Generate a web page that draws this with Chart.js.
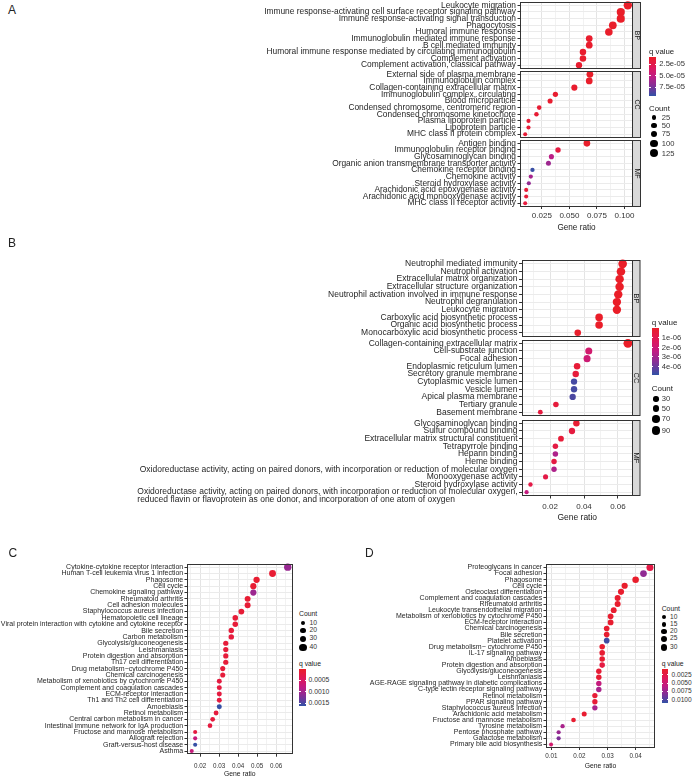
<!DOCTYPE html>
<html>
<head>
<meta charset="utf-8">
<title>Enrichment dot plots</title>
<script src="https://cdn.jsdelivr.net/npm/chart.js@4.4.1/dist/chart.umd.min.js"></script>
<style>
  html, body { margin: 0; padding: 0; background: #fff; }
  body { position: relative; width: 693px; height: 776px; overflow: hidden; }
  canvas { position: absolute; }
</style>
</head>
<body>
<script>
// ---------- A : GO terms (BP / CC / MF) ----------
const aBPTerms = ['Leukocyte migration', 'Immune response-activating cell surface receptor signaling pathway',
  'Immune response-activating signal transduction', 'Phagocytosis', 'Humoral immune response',
  'Immunoglobulin mediated immune response', 'B cell mediated immunity',
  'Humoral immune response mediated by circulating immunoglobulin', 'Complement activation',
  'Complement activation, classical pathway'];
const aBPRatio = [0.1030, 0.0966, 0.0966, 0.0894, 0.0858, 0.0680, 0.0680, 0.0623, 0.0623, 0.0587];
const aBPCount = [126, 118, 118, 109, 105, 83, 83, 76, 76, 72];
const aBPQ = [9e-6, 9e-6, 9e-6, 1.0e-5, 1.0e-5, 1.1e-5, 1.1e-5, 1.1e-5, 1.1e-5, 1.2e-5];

const aCCTerms = ['External side of plasma membrane', 'Immunoglobulin complex', 'Collagen-containing extracellular matrix',
  'Immunoglobulin complex, circulating', 'Blood microparticle', 'Condensed chromosome, centromeric region',
  'Condensed chromosome kinetochore', 'Plasma lipoprotein particle', 'Lipoprotein particle',
  'MHC class II protein complex'];
const aCCRatio = [0.0686, 0.0680, 0.0545, 0.0373, 0.0325, 0.0226, 0.0201, 0.0129, 0.0129, 0.0099];
const aCCCount = [84, 83, 66, 45, 40, 28, 25, 16, 16, 12];
const aCCQ = [1.0e-5, 1.0e-5, 1.1e-5, 1.2e-5, 1.2e-5, 1.4e-5, 1.4e-5, 1.5e-5, 1.5e-5, 1.5e-5];

const aMFTerms = ['Antigen binding', 'Immunoglobulin receptor binding', 'Glycosaminoglycan binding',
  'Organic anion transmembrane transporter activity', 'Chemokine receptor binding', 'Chemokine activity',
  'Steroid hydroxylase activity', 'Arachidonic acid epoxygenase activity',
  'Arachidonic acid monooxygenase activity', 'MHC class II receptor activity'];
const aMFRatio = [0.0659, 0.0397, 0.0337, 0.0310, 0.0165, 0.0150, 0.0132, 0.0108, 0.0108, 0.0099];
const aMFCount = [80, 48, 41, 38, 20, 18, 16, 13, 13, 12];
const aMFQ = [1.0e-5, 2.0e-5, 5.3e-5, 6.3e-5, 9.2e-5, 6.0e-5, 6.6e-5, 1.5e-5, 1.5e-5, 1.8e-5];

const aMajor = [0.025, 0.05, 0.075, 0.1];
const aMajorLabels = ['0.025', '0.050', '0.075', '0.100'];
const aMinor = [0.0125, 0.0375, 0.0625, 0.0875];
const aQBreaks = [2.5e-5, 5e-5, 7.5e-5];
const aQLabels = ['2.5e-05', '5.0e-05', '7.5e-05'];
const aCountBreaks = [25, 50, 75, 100, 125];

// ---------- B : GO terms (BP / CC / MF) ----------
const bBPTerms = ['Neutrophil mediated immunity', 'Neutrophil activation', 'Extracellular matrix organization',
  'Extracellular structure organization', 'Neutrophil activation involved in immune response',
  'Neutrophil degranulation', 'Leukocyte migration', 'Carboxylic acid biosynthetic process',
  'Organic acid biosynthetic process', 'Monocarboxylic acid biosynthetic process'];
const bBPRatio = [0.0628, 0.0618, 0.0610, 0.0610, 0.0602, 0.0594, 0.0594, 0.0489, 0.0489, 0.0363];
const bBPCount = [91, 90, 88, 88, 87, 86, 86, 71, 71, 53];
const bBPQ = [1e-9, 1e-9, 1e-9, 1e-9, 1e-9, 1e-9, 1e-9, 5e-8, 5e-8, 1e-7];

const bCCTerms = ['Collagen-containing extracellular matrix', 'Cell-substrate junction', 'Focal adhesion',
  'Endoplasmic reticulum lumen', 'Secretory granule membrane', 'Cytoplasmic vesicle lumen', 'Vesicle lumen',
  'Apical plasma membrane', 'Tertiary granule', 'Basement membrane'];
const bCCRatio = [0.0659, 0.0428, 0.0418, 0.0359, 0.0351, 0.0341, 0.0341, 0.0333, 0.0234, 0.0142];
const bCCCount = [96, 62, 61, 52, 51, 49, 49, 48, 34, 21];
const bCCQ = [1e-9, 1.8e-6, 2.0e-6, 4e-7, 5e-7, 4.6e-6, 4.6e-6, 4.5e-6, 5e-7, 6e-7];

const bMFTerms = ['Glycosaminoglycan binding', 'Sulfur compound binding', 'Extracellular matrix structural constituent',
  'Tetrapyrrole binding', 'Heparin binding', 'Heme binding',
  'Oxidoreductase activity, acting on paired donors, with incorporation or reduction of molecular oxygen',
  'Monooxygenase activity', 'Steroid hydroxylase activity',
  ['Oxidoreductase activity, acting on paired donors, with incorporation or reduction of molecular oxygen,',
   'reduced flavin or flavoprotein as one donor, and incorporation of one atom of oxygen']];
const bMFRatio = [0.0355, 0.0329, 0.0264, 0.0231, 0.0231, 0.0223, 0.0223, 0.0173, 0.0084, 0.0061];
const bMFCount = [51, 48, 38, 33, 33, 32, 32, 25, 12, 9];
const bMFQ = [3e-7, 6e-7, 4e-7, 7e-7, 2.8e-6, 7e-7, 2.8e-6, 8e-7, 8e-7, 2.3e-6];

const bMajor = [0.02, 0.04, 0.06];
const bMajorLabels = ['0.02', '0.04', '0.06'];
const bMinor = [0.01, 0.03, 0.05];
const bQBreaks = [1e-6, 2e-6, 3e-6, 4e-6];
const bQLabels = ['1e-06', '2e-06', '3e-06', '4e-06'];
const bCountBreaks = [30, 50, 70, 90];

// ---------- C : KEGG pathways ----------
const cTerms = ['Cytokine-cytokine receptor interaction', 'Human T-cell leukemia virus 1 infection', 'Phagosome',
  'Cell cycle', 'Chemokine signaling pathway', 'Rheumatoid arthritis', 'Cell adhesion molecules',
  'Staphylococcus aureus infection', 'Hematopoietic cell lineage',
  'Viral protein interaction with cytokine and cytokine receptor', 'Bile secretion', 'Carbon metabolism',
  'Glycolysis/gluconeogenesis', 'Leishmaniasis', 'Protein digestion and absorption', 'Th17 cell differentiation',
  'Drug metabolism\u2212cytochrome P450', 'Chemical carcinogenesis', 'Metabolism of xenobiotics by cytochrome P450',
  'Complement and coagulation cascades', 'ECM-receptor interaction', 'Th1 and Th2 cell differentiation',
  'Amoebiasis', 'Retinol metabolism', 'Central carbon metabolism in cancer',
  'Intestinal immune network for IgA production', 'Fructose and mannose metabolism', 'Allograft rejection',
  'Graft-versus-host disease', 'Asthma'];
const cRatio = [0.0661, 0.0581, 0.0497, 0.0480, 0.0480, 0.0450, 0.0450, 0.0417, 0.0385, 0.0385, 0.0364, 0.0364,
  0.0335, 0.0335, 0.0335, 0.0335, 0.0319, 0.0319, 0.0301, 0.0301, 0.0301, 0.0301, 0.0301, 0.0284, 0.0266,
  0.0252, 0.0174, 0.0174, 0.0174, 0.0156];
const cCount = [40, 35, 30, 29, 29, 27, 27, 25, 23, 23, 22, 22, 20, 20, 20, 20, 19, 19, 18, 18, 18, 18, 18, 17,
  16, 15, 10, 10, 10, 9];
const cQ = [0.00105, 0.0001, 0.00008, 0.0001, 0.00102, 0.0001, 0.00012, 0.00012, 0.00014, 0.00014, 0.00015,
  0.00018, 0.00015, 0.00015, 0.00015, 0.00015, 0.00016, 0.00016, 0.0002, 0.0002, 0.0002, 0.0002, 0.00158,
  0.00018, 0.00018, 0.0002, 0.0002, 0.00072, 0.00158, 0.00072];

const cMajor = [0.02, 0.03, 0.04, 0.05, 0.06];
const cMajorLabels = ['0.02', '0.03', '0.04', '0.05', '0.06'];
const cMinor = [0.015, 0.025, 0.035, 0.045, 0.055, 0.065];
const cQBreaks = [0.0005, 0.001, 0.0015];
const cQLabels = ['0.0005', '0.0010', '0.0015'];
const cCountBreaks = [10, 20, 30, 40];

// ---------- D : KEGG pathways ----------
const dTerms = ['Proteoglycans in cancer', 'Focal adhesion', 'Phagosome', 'Cell cycle', 'Osteoclast differentiation',
  'Complement and coagulation cascades', 'Rheumatoid arthritis', 'Leukocyte transendothelial migration',
  'Metabolism of xenobiotics by cytochrome P450', 'ECM-receptor interaction', 'Chemical carcinogenesis',
  'Bile secretion', 'Platelet activation', 'Drug metabolism\u2212 cytochrome P450', 'IL-17 signaling pathway',
  'Amoebiasis', 'Protein digestion and absorption', 'Glycolysis/gluconeogenesis', 'Leishmaniasis',
  'AGE-RAGE signaling pathway in diabetic complications', 'C-type lectin receptor signaling pathway',
  'Retinol metabolism', 'PPAR signaling pathway', 'Staphylococcus aureus infection', 'Arachidonic acid metabolism',
  'Fructose and mannose metabolism', 'Tyrosine metabolism', 'Pentose phosphate pathway', 'Galactose metabolism',
  'Primary bile acid biosynthesis'];
const dRatio = [0.0451, 0.0428, 0.0400, 0.0361, 0.0348, 0.0336, 0.0336, 0.0322, 0.0311, 0.0311, 0.0297, 0.0297,
  0.0297, 0.0281, 0.0281, 0.0281, 0.0281, 0.0269, 0.0269, 0.0269, 0.0269, 0.0255, 0.0255, 0.0255, 0.0217,
  0.0179, 0.0140, 0.0126, 0.0126, 0.0099];
const dCount = [34, 32, 30, 27, 26, 25, 25, 24, 23, 23, 22, 22, 22, 21, 21, 21, 21, 20, 20, 20, 20, 19, 19, 19,
  16, 13, 10, 9, 9, 7];
const dQ = [0.0024, 0.0078, 0.0010, 0.0010, 0.0011, 0.0011, 0.0011, 0.0012, 0.0012, 0.0012, 0.0013, 0.0013,
  0.0105, 0.0013, 0.0014, 0.0014, 0.0022, 0.0015, 0.0015, 0.0055, 0.0068, 0.0016, 0.0016, 0.0068, 0.0013,
  0.0013, 0.0068, 0.0075, 0.0085, 0.0045];

const dMajor = [0.01, 0.02, 0.03, 0.04];
const dMajorLabels = ['0.01', '0.02', '0.03', '0.04'];
const dMinor = [0.015, 0.025, 0.035, 0.045];
const dQBreaks = [0.0025, 0.005, 0.0075, 0.01];
const dQLabels = ['0.0025', '0.0050', '0.0075', '0.0100'];
const dCountBreaks = [10, 15, 20, 25, 30];

// ---------- helpers ----------
const FONT = '"Liberation Sans", Arial, Helvetica, sans-serif';
Chart.defaults.font.family = FONT;

// red -> magenta -> purple -> blue, low q on top
const qStops = [[0, [234, 30, 40]], [0.25, [224, 24, 88]], [0.5, [192, 28, 132]], [0.75, [128, 48, 152]], [1, [50, 82, 166]]];
function qColor(q, lo, hi) {
  let t = (q - lo) / (hi - lo);
  t = Math.max(0, Math.min(1, t));
  for (let i = 1; i < qStops.length; i++) {
    if (t <= qStops[i][0]) {
      const [t0, c0] = qStops[i - 1], [t1, c1] = qStops[i];
      const f = (t - t0) / (t1 - t0);
      return 'rgb(' + c0.map((v, k) => Math.round(v + (c1[k] - v) * f)).join(',') + ')';
    }
  }
  return 'rgb(50,82,166)';
}
function dotRadius(c, s) {
  return s.rMin + (s.rMax - s.rMin) * (c - s.cMin) / (s.cMax - s.cMin);
}
function addText(x, cy, str, fs, color) {
  const d = document.createElement('div');
  d.textContent = str;
  d.style.cssText = 'position:absolute;white-space:nowrap;left:' + x + 'px;top:' + (cy - fs / 2) + 'px;' +
    'font-size:' + fs + 'px;line-height:' + fs + 'px;font-family:' + FONT + ';color:' + color + ';';
  document.body.appendChild(d);
}

// panel border, right-hand strip and the one two-line label
const facetBox = {
  id: 'facetBox',
  afterDraw(chart, args, o) {
    const { ctx, chartArea: a } = chart;
    ctx.save();
    ctx.lineWidth = 1;
    ctx.strokeStyle = '#333';
    const l = Math.round(a.left) + 0.5, t = Math.round(a.top) + 0.5;
    const r = Math.round(a.right) - 0.5, b = Math.round(a.bottom) - 0.5;
    ctx.strokeRect(l, t, r - l, b - t);
    if (o.strip) {
      ctx.fillStyle = '#D9D9D9';
      ctx.fillRect(r, t, o.stripW, b - t);
      ctx.strokeRect(r, t, o.stripW, b - t);
      ctx.save();
      ctx.fillStyle = '#1A1A1A';
      ctx.font = o.stripFs + 'px ' + FONT;
      ctx.textAlign = 'center';
      ctx.textBaseline = 'middle';
      ctx.translate(r + o.stripW / 2, (t + b) / 2);
      ctx.rotate(Math.PI / 2);
      ctx.fillText(o.strip, 0, 0);
      ctx.restore();
    }
    const ys = chart.scales.y;
    ys.getLabels().forEach((lab, i) => {
      if (!Array.isArray(lab)) return;
      ctx.font = o.yFs + 'px ' + FONT;
      ctx.fillStyle = '#262626';
      ctx.textAlign = 'left';
      ctx.textBaseline = 'middle';
      const x0 = a.left - 2.5 - o.yPad - ctx.measureText(lab[0]).width;
      const yc = ys.getPixelForValue(i);
      lab.forEach((line, k) => ctx.fillText(line, x0, yc - 0.5 + k * o.lineGap));
    });
    ctx.restore();
  }
};

function facet(p, f) {
  const plotW = p.right - p.left, plotH = f.bottom - f.top;
  const axisH = f.axis ? p.axisH : 0;
  const cl = Math.floor(p.left - p.labW), ct = Math.floor(f.top - 8);
  const yW = p.left - cl, padT = f.top - ct;
  const W = Math.ceil(yW + plotW + (p.stripW || 0) + 6);
  const H = Math.ceil(padT + plotH + axisH + 8);
  const padR = W - yW - plotW, padB = H - padT - plotH - axisH;
  const cv = document.createElement('canvas');
  cv.width = W; cv.height = H;
  cv.style.left = cl + 'px'; cv.style.top = ct + 'px';
  cv.style.width = W + 'px'; cv.style.height = H + 'px';
  document.body.appendChild(cv);

  const ticks = p.major.concat(p.minor).sort((u, v) => u - v);
  const isMajor = c => c.tick && p.major.indexOf(c.tick.value) >= 0;
  const radii = f.count.map(c => dotRadius(c, p.size));

  new Chart(cv, {
    type: 'scatter',
    data: {
      datasets: [{
        data: f.terms.map((t, i) => ({ x: f.ratio[i], y: i })),
        backgroundColor: f.q.map(v => qColor(v, p.qMin, p.qMax)),
        pointRadius: radii,
        pointHoverRadius: radii,
        borderWidth: 0,
        clip: false
      }]
    },
    options: {
      responsive: false,
      animation: false,
      devicePixelRatio: 1,
      events: [],
      layout: { padding: { left: 0, top: padT, right: padR, bottom: padB } },
      plugins: {
        legend: { display: false },
        tooltip: { enabled: false },
        facetBox: { strip: f.strip, stripW: p.stripW, stripFs: p.stripFs, yFs: p.yFs, yPad: p.yPad, lineGap: 7.5 }
      },
      scales: {
        x: {
          type: 'linear',
          bounds: 'data',
          min: p.xMin,
          max: p.xMax,
          afterBuildTicks: s => { s.ticks = ticks.map(v => ({ value: v })); },
          afterFit: s => { s.height = axisH; },
          ticks: {
            display: !!f.axis, autoSkip: false, maxRotation: 0, minRotation: 0,
            padding: p.tickPad, color: '#333', font: { size: p.xFs, family: FONT },
            callback: v => { const k = p.major.indexOf(v); return k < 0 ? '' : p.majorLabels[k]; }
          },
          grid: {
            color: c => isMajor(c) ? '#E4E4E4' : '#F2F2F2',
            lineWidth: 1,
            drawTicks: !!f.axis,
            tickLength: 2.5,
            tickColor: c => isMajor(c) ? '#333' : 'rgba(0,0,0,0)'
          },
          border: { display: false },
          title: { display: !!f.axis, text: 'Gene ratio', color: '#1A1A1A', font: { size: p.titleFs, family: FONT }, padding: 0 }
        },
        y: {
          type: 'category',
          labels: f.terms,
          offset: true,
          afterFit: s => { s.width = yW; },
          ticks: {
            autoSkip: false, padding: p.yPad, color: '#262626', font: { size: p.yFs, family: FONT },
            callback: function (v) { const t = this.getLabelForValue(v); return Array.isArray(t) ? '' : t; }
          },
          grid: { color: '#EBEBEB', lineWidth: 1, offset: false, drawTicks: true, tickLength: 2.5, tickColor: '#333' },
          border: { display: false }
        }
      }
    },
    plugins: [facetBox]
  });
}

function legend(p, L, qBreaks, qLabels, countBreaks) {
  addText(L.x, L.qTitleY, 'q value', L.titleFs, '#1A1A1A');
  const stops = [];
  for (let k = 0; k <= 10; k++) {
    stops.push(qColor(p.qMin + (p.qMax - p.qMin) * k / 10, p.qMin, p.qMax) + ' ' + (k * 10) + '%');
  }
  const bar = document.createElement('div');
  bar.style.cssText = 'position:absolute;left:' + L.x + 'px;top:' + L.barTop + 'px;width:' + L.barW + 'px;height:' +
    L.barH + 'px;background:linear-gradient(to bottom,' + stops.join(',') + ');';
  document.body.appendChild(bar);
  qBreaks.forEach((v, i) => {
    const y = L.barTop + (v - p.qMin) / (p.qMax - p.qMin) * L.barH;
    [0, L.barW - 1.5].forEach(dx => {
      const tk = document.createElement('div');
      tk.style.cssText = 'position:absolute;left:' + (L.x + dx) + 'px;top:' + (y - 0.5) + 'px;width:1.5px;height:1px;background:#fff;';
      document.body.appendChild(tk);
    });
    addText(L.labelX, y, qLabels[i], L.fs, '#333');
  });
  addText(L.x, L.countTitleY, 'Count', L.titleFs, '#1A1A1A');
  countBreaks.forEach((c, i) => {
    const r = dotRadius(c, p.size);
    const dot = document.createElement('div');
    dot.style.cssText = 'position:absolute;left:' + (L.dotX - r) + 'px;top:' + (L.dotYs[i] - r) + 'px;width:' + (2 * r) +
      'px;height:' + (2 * r) + 'px;border-radius:50%;background:#000;';
    document.body.appendChild(dot);
    addText(L.countLabelX, L.dotYs[i], String(c), L.fs, '#333');
  });
}

// ---------- panel A ----------
const aAll = aBPCount.concat(aCCCount, aMFCount);
const panelA = {
  left: 520, right: 633, labW: 262, stripW: 8,
  xMin: 0.0052, xMax: 0.1077, major: aMajor, majorLabels: aMajorLabels, minor: aMinor,
  yFs: 8.4, xFs: 8, titleFs: 8.2, stripFs: 7, yPad: 1.5, tickPad: 1.7, axisH: 25.9,
  qMin: 8.5e-6, qMax: 9.4e-5,
  size: { rMin: 2.0, rMax: 4.2, cMin: Math.min(...aAll), cMax: Math.max(...aAll) }
};
facet(panelA, { terms: aBPTerms, ratio: aBPRatio, count: aBPCount, q: aBPQ, top: 2, bottom: 68.5, strip: 'BP' });
facet(panelA, { terms: aCCTerms, ratio: aCCRatio, count: aCCCount, q: aCCQ, top: 71, bottom: 137.5, strip: 'CC' });
facet(panelA, { terms: aMFTerms, ratio: aMFRatio, count: aMFCount, q: aMFQ, top: 140, bottom: 206.5, strip: 'MF', axis: true });
legend(panelA, { x: 649, qTitleY: 51.5, barTop: 56.7, barH: 39.3, barW: 7.4, labelX: 659.3, countTitleY: 108.5,
  dotX: 654, dotYs: [117.3, 125.3, 134, 143.3, 153.3], countLabelX: 661.7, titleFs: 7.8, fs: 7.6 },
  aQBreaks, aQLabels, aCountBreaks);

// ---------- panel B ----------
const bAll = bBPCount.concat(bCCCount, bMFCount);
const panelB = {
  left: 521.5, right: 633, labW: 392, stripW: 7.5,
  xMin: 0.0031, xMax: 0.0689, major: bMajor, majorLabels: bMajorLabels, minor: bMinor,
  yFs: 8.5, xFs: 8, titleFs: 8.5, stripFs: 7.5, yPad: 1.5, tickPad: 3.4, axisH: 26.8,
  qMin: 0, qMax: 4.9e-6,
  size: { rMin: 2.1, rMax: 4.45, cMin: Math.min(...bAll), cMax: Math.max(...bAll) }
};
facet(panelB, { terms: bBPTerms, ratio: bBPRatio, count: bBPCount, q: bBPQ, top: 260, bottom: 336.5, strip: 'BP' });
facet(panelB, { terms: bCCTerms, ratio: bCCRatio, count: bCCCount, q: bCCQ, top: 339.5, bottom: 416, strip: 'CC' });
facet(panelB, { terms: bMFTerms, ratio: bMFRatio, count: bMFCount, q: bMFQ, top: 419.5, bottom: 496, strip: 'MF', axis: true });
legend(panelB, { x: 651.7, qTitleY: 322.7, barTop: 328.3, barH: 46.7, barW: 7.3, labelX: 661.7, countTitleY: 388.7,
  dotX: 656, dotYs: [399, 408.7, 419, 430.3], countLabelX: 661.7, titleFs: 8, fs: 7.6 },
  bQBreaks, bQLabels, bCountBreaks);

// ---------- panel C ----------
const panelC = {
  left: 187, right: 292.5, labW: 187,
  xMin: 0.0131, xMax: 0.0686, major: cMajor, majorLabels: cMajorLabels, minor: cMinor,
  yFs: 7, xFs: 6.3, titleFs: 6.8, yPad: 1.3, tickPad: 5.5, axisH: 23.9,
  qMin: 0, qMax: 0.0016,
  size: { rMin: 2.0, rMax: 3.7, cMin: Math.min(...cCount), cMax: Math.max(...cCount) }
};
facet(panelC, { terms: cTerms, ratio: cRatio, count: cCount, q: cQ, top: 564, bottom: 754.2, axis: true });
legend(panelC, { x: 299, qTitleY: 664, barTop: 669, barH: 36.7, barW: 7, labelX: 308.5, countTitleY: 614.3,
  dotX: 303, dotYs: [623, 630.7, 638.7, 647.3], countLabelX: 309.5, titleFs: 6.8, fs: 6.8 },
  cQBreaks, cQLabels, cCountBreaks);

// ---------- panel D ----------
const panelD = {
  left: 546, right: 655, labW: 192,
  xMin: 0.0081, xMax: 0.0469, major: dMajor, majorLabels: dMajorLabels, minor: dMinor,
  yFs: 7, xFs: 6.3, titleFs: 6.8, yPad: 1.3, tickPad: 2.9, axisH: 22.6,
  qMin: 0.0008, qMax: 0.011,
  size: { rMin: 2.0, rMax: 3.5, cMin: Math.min(...dCount), cMax: Math.max(...dCount) }
};
facet(panelD, { terms: dTerms, ratio: dRatio, count: dCount, q: dQ, top: 564.4, bottom: 747.5, axis: true });
legend(panelD, { x: 661.7, qTitleY: 664, barTop: 669.3, barH: 34, barW: 6.6, labelX: 671.5, countTitleY: 609,
  dotX: 664, dotYs: [617.3, 624.3, 631.3, 638.7, 647.3], countLabelX: 670, titleFs: 6.8, fs: 6.6 },
  dQBreaks, dQLabels, dCountBreaks);

// panel letters
addText(8, 9.5, 'A', 12, '#222');
addText(8, 243, 'B', 12, '#222');
addText(8.5, 553, 'C', 12, '#222');
addText(365, 553, 'D', 12, '#222');
</script>
</body>
</html>
